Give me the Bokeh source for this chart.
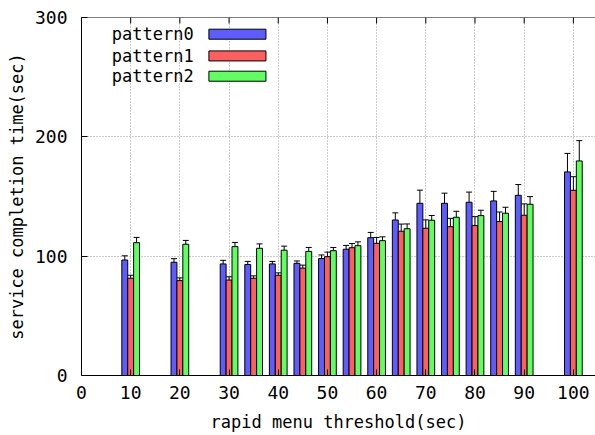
from bokeh.plotting import figure
from bokeh.models import ColumnDataSource, Range1d, FixedTicker, Whisker, TeeHead, Span
from bokeh.core.properties import value
from bokeh.embed import file_html
from bokeh.resources import INLINE

thresholds = [10, 20, 30, 35, 40, 45, 50, 55, 60, 65, 70, 75, 80, 85, 90, 100]
pattern0 = [96.8, 94.9, 93.5, 93.0, 93.5, 94.0, 98.0, 105.8, 115.5, 130.3, 144.3, 144.3, 145.2, 146.3, 151.0, 170.6]
pattern1 = [81.5, 79.5, 80.0, 81.5, 84.0, 90.0, 99.6, 107.1, 110.8, 120.9, 123.4, 124.7, 125.6, 129.0, 134.3, 155.2]
pattern2 = [111.3, 110.0, 108.0, 106.6, 105.0, 104.0, 104.6, 108.8, 113.0, 123.0, 130.1, 132.6, 134.0, 136.0, 143.5, 179.8]
err0 = [3.5, 3.0, 3.0, 2.6, 2.1, 2.0, 3.0, 3.2, 4.4, 6.0, 11.0, 8.5, 8.5, 8.0, 9.0, 15.5]
err1 = [2.5, 2.3, 2.7, 2.0, 2.0, 2.5, 3.8, 3.5, 4.9, 6.0, 7.0, 7.0, 7.5, 8.0, 9.5, 11.4]
err2 = [4.4, 3.2, 3.5, 3.7, 3.4, 3.3, 2.7, 3.2, 3.2, 4.0, 4.0, 5.0, 4.5, 5.0, 6.4, 17.0]
series_names = ["pattern0", "pattern1", "pattern2"]
series_colors = ["#5c5cff", "#ff5e5e", "#5eff5e"]
x_ticks = [0, 10, 20, 30, 40, 50, 60, 70, 80, 90, 100]
y_ticks = [0, 100, 200, 300]

FONT = "DejaVu Sans Mono"
LABEL_FS = "17px"
TICK_FS = "18px"

p = figure(width=595, height=435, output_backend="svg", toolbar_location=None,
           x_range=Range1d(0, 104.5), y_range=Range1d(0, 300),
           min_border_left=81, min_border_right=0, min_border_top=17, min_border_bottom=60,
           x_axis_label="rapid menu threshold(sec)",
           y_axis_label="service completion time(sec)")
p.outline_line_color = None
p.background_fill_color = "white"
p.border_fill_color = "white"

# grid
p.xgrid.ticker = FixedTicker(ticks=x_ticks)
p.ygrid.ticker = FixedTicker(ticks=y_ticks)
for g in (p.xgrid, p.ygrid):
    g.grid_line_color = "#999999"
    g.grid_line_dash = "1 2"
    g.grid_line_width = 1

bar_w = 1.2
offsets = [-bar_w, 0.0, bar_w]
all_vals = [pattern0, pattern1, pattern2]
all_errs = [err0, err1, err2]

for vals, errs, off, col in zip(all_vals, all_errs, offsets, series_colors):
    src = ColumnDataSource(dict(
        x=[t + off for t in thresholds],
        top=vals,
        upper=[v + e for v, e in zip(vals, errs)],
        lower=[v - e for v, e in zip(vals, errs)],
    ))
    p.vbar(x="x", top="top", bottom=0, width=bar_w, source=src,
           fill_color=col, line_color="black", line_width=1)
    wh = Whisker(base="x", upper="upper", lower="lower", source=src, dimension="height",
                 line_color="black", line_width=1,
                 upper_head=TeeHead(size=6, line_color="black", line_width=1),
                 lower_head=TeeHead(size=6, line_color="black", line_width=1))
    p.add_layout(wh)

# legend (label left, sample box right, as in gnuplot)
leg_y = [286.0, 267.8, 250.8]
for name, col, ly in zip(series_names, series_colors, leg_y):
    p.text(x=[22.8], y=[ly], text=[name], text_align="right", text_baseline="middle",
           text_font=value(FONT), text_font_size=LABEL_FS, text_color="black")
    p.quad(left=[25.9], right=[37.5], bottom=[ly - 4.2], top=[ly + 4.2],
           fill_color=col, line_color="black", line_width=1)

# top border with inward tick marks (mirror ticks)
p.add_layout(Span(location=300, dimension="width", line_color="black", line_width=1))
p.segment(x0=x_ticks, y0=[300] * len(x_ticks), x1=x_ticks, y1=[295] * len(x_ticks),
          line_color="black", line_width=1)

for ax in (p.xaxis[0], p.yaxis[0]):
    ax.axis_line_color = "black"
    ax.axis_line_width = 1
    ax.major_tick_in = 6
    ax.major_tick_out = 0
    ax.minor_tick_line_color = None
    ax.major_tick_line_color = "black"
    ax.major_label_text_font = FONT
    ax.major_label_text_font_size = TICK_FS
    ax.major_label_text_color = "black"
    ax.axis_label_text_font = FONT
    ax.axis_label_text_font_size = LABEL_FS
    ax.axis_label_text_font_style = "normal"
    ax.axis_label_text_color = "black"

p.xaxis[0].ticker = FixedTicker(ticks=x_ticks)
p.yaxis[0].ticker = FixedTicker(ticks=y_ticks)
p.xaxis[0].major_label_standoff = 10
p.xaxis[0].axis_label_standoff = 10
p.yaxis[0].major_label_standoff = 14
p.yaxis[0].axis_label_standoff = 5

open("out.html", "w").write(file_html(p, INLINE))
